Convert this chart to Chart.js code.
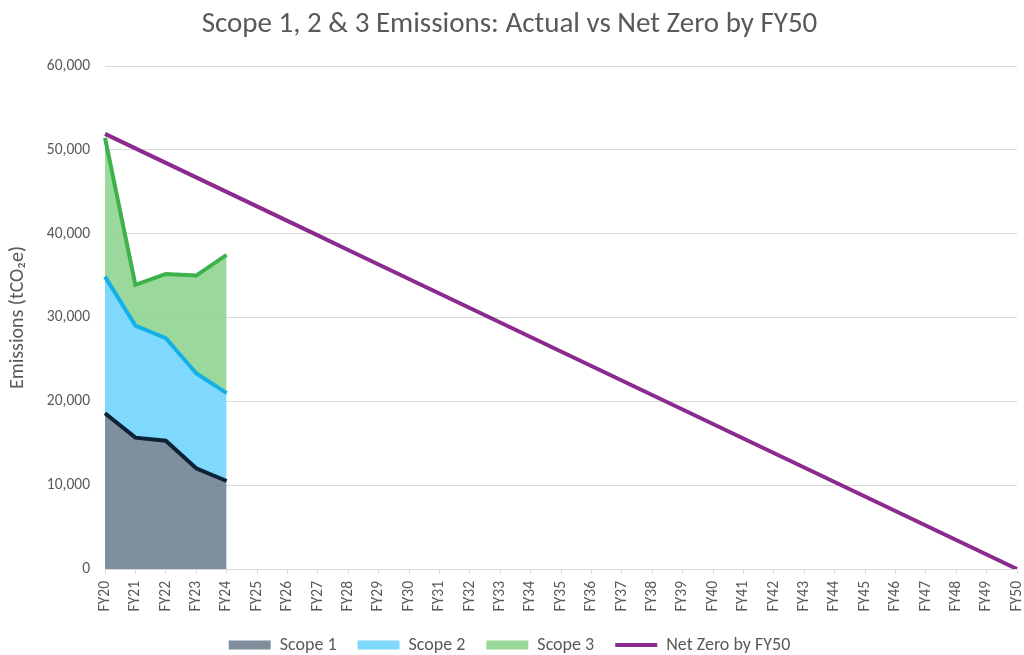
<!DOCTYPE html>
<html>
<head>
<meta charset="utf-8">
<script src="https://cdn.jsdelivr.net/npm/chart.js@4/dist/chart.umd.min.js"></script>
<style>
  html, body { margin: 0; padding: 0; background: #ffffff; }
  #wrap { width: 1024px; height: 655px; }
</style>
</head>
<body>
<div id="wrap"><canvas id="c" width="1024" height="655"></canvas></div>
<script>
const categories = ["FY20","FY21","FY22","FY23","FY24","FY25","FY26","FY27","FY28","FY29","FY30","FY31","FY32","FY33","FY34","FY35","FY36","FY37","FY38","FY39","FY40","FY41","FY42","FY43","FY44","FY45","FY46","FY47","FY48","FY49","FY50"];
const scope1 = [18580, 15670, 15310, 12020, 10500];
const scope2 = [16300, 13360, 12220, 11330, 10470];
const scope3 = [16550, 4860, 7670, 11650, 16500];
const netZero = [51900, 50170, 48440, 46710, 44980, 43250, 41520, 39790, 38060, 36330, 34600, 32870, 31140, 29410, 27680, 25950, 24220, 22490, 20760, 19030, 17300, 15570, 13840, 12110, 10380, 8650, 6920, 5190, 3460, 1730, 0];
const yTicks = [0, 10000, 20000, 30000, 40000, 50000, 60000];

const FONT = "Carlito, Lato, 'Open Sans', sans-serif";
const TXT = "#595959";
const GRID = "#d9d9d9";

new Chart(document.getElementById("c"), {
  type: "line",
  data: {
    labels: categories,
    datasets: [
      { label: "Scope 1", data: scope1, stack: "actual", fill: "origin",
        backgroundColor: "rgba(104,123,140,0.85)", borderColor: "#0b2237", borderWidth: 4,
        pointRadius: 0, pointStyle: "rect", tension: 0 },
      { label: "Scope 2", data: scope2, stack: "actual", fill: "-1",
        backgroundColor: "rgba(105,210,253,0.85)", borderColor: "#16b0e8", borderWidth: 4,
        pointRadius: 0, pointStyle: "rect", tension: 0 },
      { label: "Scope 3", data: scope3, stack: "actual", fill: "-1",
        backgroundColor: "rgba(136,209,137,0.85)", borderColor: "#3bb24a", borderWidth: 4,
        pointRadius: 0, pointStyle: "rect", tension: 0 },
      { label: "Net Zero by FY50", data: netZero, stack: "nz", fill: false,
        backgroundColor: "#8b2b8e", borderColor: "#8b2b8e", borderWidth: 4,
        pointRadius: 0, pointStyle: "line", tension: 0 }
    ]
  },
  options: {
    responsive: false,
    animation: false,
    devicePixelRatio: 1,
    layout: { padding: { left: 2, right: 7, top: 0, bottom: 0 } },
    plugins: {
      tooltip: { enabled: false },
      title: {
        display: true,
        text: "Scope 1, 2 & 3 Emissions: Actual vs Net Zero by FY50",
        color: TXT,
        font: { family: FONT, size: 29, weight: "normal" },
        padding: { top: 7.5, bottom: 23.7 }
      },
      legend: {
        position: "bottom",
        maxHeight: 40,
        labels: {
          color: TXT,
          font: { family: FONT, size: 18 },
          usePointStyle: true,
          pointStyleWidth: 42,
          boxHeight: 9,
          padding: 21,
          generateLabels(chart) {
            const items = Chart.defaults.plugins.legend.labels.generateLabels(chart);
            items.forEach((it, i) => {
              const ds = chart.data.datasets[i];
              if (ds.pointStyle === "rect") {
                it.strokeStyle = "rgba(0,0,0,0)";
                it.lineWidth = 0;
                it.fillStyle = ds.backgroundColor;
              } else {
                it.strokeStyle = ds.borderColor;
                it.lineWidth = 4;
              }
              it.fontColor = TXT;
            });
            return items;
          }
        }
      }
    },
    scales: {
      x: {
        stacked: false,
        offset: false,
        grid: { display: true, drawOnChartArea: false, drawTicks: true, tickLength: 5, color: GRID },
        border: { display: true, color: GRID },
        ticks: { color: TXT, font: { family: FONT, size: 15.5 }, minRotation: 90, maxRotation: 90, autoSkip: false, padding: 7 },
        afterFit(scale) { scale.height = 46; scale.paddingLeft = 0; scale.paddingRight = 0; }
      },
      y: {
        stacked: true,
        min: 0,
        max: 60000,
        afterBuildTicks(scale) { scale.ticks = yTicks.map(v => ({ value: v })); },
        grid: { color: GRID, drawTicks: false },
        border: { display: false },
        ticks: { color: TXT, font: { family: FONT, size: 15.5 }, padding: 15 },
        title: { display: true, text: "Emissions (tCO\u2082e)", color: TXT, font: { family: FONT, size: 20 } },
        afterFit(scale) { scale.width = 103; }
      }
    }
  }
});
</script>
</body>
</html>
